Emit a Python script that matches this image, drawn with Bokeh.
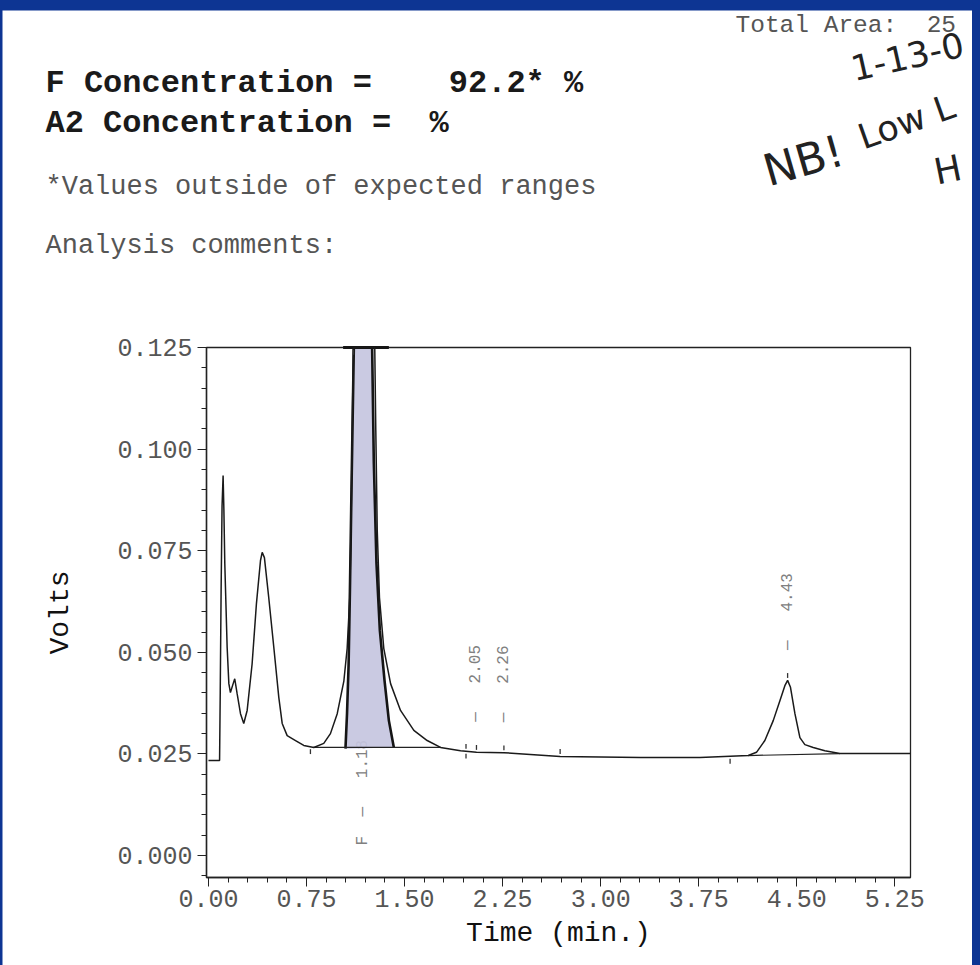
import numpy as np
from bokeh.plotting import figure
from bokeh.layouts import column
from bokeh.models import Range1d, FixedTicker, PrintfTickFormatter
from bokeh.core.properties import value
from bokeh.embed import file_html
from bokeh.resources import INLINE

MONO = "Liberation Mono"
BLUE = "#0d3593"
NB = "\u00a0"  # non-breaking space keeps column alignment in svg text

# ---- detector trace (time in min, signal in volts; 0.125 V is full scale) ----
time_min = [0.000, 0.085, 0.090, 0.097, 0.104, 0.112, 0.118, 0.125, 0.143, 0.156,
            0.168, 0.189, 0.201, 0.219, 0.245, 0.270, 0.296, 0.334, 0.367, 0.398,
            0.411, 0.428, 0.461, 0.500, 0.538, 0.564, 0.602, 0.666, 0.729, 0.806,
            0.882, 0.933, 0.985, 1.036, 1.061, 1.081, 1.090, 1.100, 1.108,
            1.272, 1.280, 1.291, 1.308, 1.341, 1.393, 1.469, 1.571, 1.673, 1.775,
            1.928, 2.050, 2.260, 2.690, 3.305, 3.760, 4.129, 4.192, 4.256, 4.320,
            4.371, 4.409, 4.430, 4.452, 4.486, 4.524, 4.562, 4.626, 4.715, 4.830,
            5.370]
volts = [0.0234, 0.0234, 0.0400, 0.0660, 0.0860, 0.0935, 0.0850, 0.0718, 0.0512, 0.0423,
         0.0401, 0.0423, 0.0435, 0.0399, 0.0349, 0.0325, 0.0357, 0.0472, 0.0620, 0.0726,
         0.0746, 0.0733, 0.0635, 0.0512, 0.0389, 0.0325, 0.0295, 0.0283, 0.0271, 0.0266,
         0.0276, 0.0300, 0.0349, 0.0430, 0.0510, 0.0635, 0.0800, 0.1046, 0.1250,
         0.1250, 0.1046, 0.0800, 0.0635, 0.0510, 0.0423, 0.0357, 0.0308, 0.0283, 0.0266,
         0.0258, 0.0254, 0.0253, 0.0244, 0.0241, 0.0241, 0.0246, 0.0254, 0.0283, 0.0332,
         0.0381, 0.0418, 0.0431, 0.0414, 0.0349, 0.0290, 0.0273, 0.0266, 0.0258, 0.0251,
         0.0251]

# integrated F window (edges of the shaded area)
f_left_t = [1.048, 1.060, 1.072, 1.082, 1.094, 1.112]
f_left_v = [0.0263, 0.0350, 0.0470, 0.0650, 0.0900, 0.1250]
f_right_t = [1.252, 1.265, 1.285, 1.311, 1.347, 1.380, 1.418]
f_right_v = [0.1250, 0.0965, 0.0720, 0.0554, 0.0430, 0.0332, 0.0266]
f_clip_t = [1.03, 1.38]

# drop baselines under integrated peaks
base_t0 = [0.80, 4.129]
base_t1 = [1.78, 4.830]
base_v0 = [0.0266, 0.0246]
base_v1 = [0.0266, 0.0251]

# peak annotations
peak_names = ["F", "", "", ""]
peak_times = [1.18, 2.05, 2.26, 4.43]

# integration event marks (time, side of trace)
event_t = [0.78, 1.11, 1.97, 1.97, 2.05, 2.26, 2.69, 3.99, 4.43]
event_side = [-1, -1, 1, -1, 1, 1, 1, -1, 1]

x_major = [0.00, 0.75, 1.50, 2.25, 3.00, 3.75, 4.50, 5.25]
y_major = [0.000, 0.025, 0.050, 0.075, 0.100, 0.125]

# report header lines
header_lines = ["F Concentration =" + NB * 4 + "92.2* %",
                "A2 Concentration =" + NB * 2 + "%"]
note_lines = ["*Values outside of expected ranges", "Analysis comments:"]
total_area = "Total Area:" + NB * 2 + "25"
handwriting = ["1-13-0", "NB!", "Low L", "H"]

# ---------------- page geometry ----------------
W, H = 970, 955             # printed page inside the blue frame
PL, PR, PT, PB = 204, 908, 337, 867   # chart box on the page (px)
T0, T1 = -0.015, 5.37       # time limits of the chart box
V0, V1 = -0.0054, 0.125     # signal limits of the chart box

kx = (PR - PL) / (T1 - T0)
ky = (PB - PT) / (V1 - V0)


def page_x(px):
    return T0 + (px - PL) / kx


def page_y(py):
    return V1 - (py - PT) / ky


p = figure(width=W, height=H,
           x_range=Range1d(page_x(0), page_x(W)),
           y_range=Range1d(page_y(H), page_y(0)),
           output_backend="svg", toolbar_location=None,
           min_border=0, min_border_left=0, min_border_right=0,
           min_border_top=0, min_border_bottom=0)
p.margin = (10, 8, 0, 2)
p.grid.visible = False
p.background_fill_color = "white"
p.border_fill_color = "white"
p.outline_line_color = None

# ---- header text (page pixels -> plot coordinates) ----
p.text(x=[page_x(733)], y=[page_y(15)], text=[total_area], text_font=value(MONO),
       text_font_size="24.5px", text_color="#555", text_baseline="middle")
p.text(x=[page_x(43)] * 2, y=[page_y(73), page_y(113)], text=header_lines,
       text_font=value(MONO), text_font_size="32px", text_font_style="bold",
       text_color="#1a1a1a", text_baseline="middle")
p.text(x=[page_x(43)] * 2, y=[page_y(176), page_y(235)], text=note_lines,
       text_font=value(MONO), text_font_size="27px", text_color="#555",
       text_baseline="middle")
p.text(x=[page_x(v) for v in (849, 762, 857, 932)],
       y=[page_y(v) for v in (58, 161, 128, 162)],
       text=handwriting, angle=[0.22, 0.28, 0.34, 0.20],
       text_font=value("DejaVu Sans"), text_font_size=["35px", "44px", "35px", "36px"],
       text_color="#222", text_baseline="alphabetic")

# ---- chart axes, pinned to the chart box ----
xt = FixedTicker(ticks=x_major, minor_ticks=list(np.round(np.arange(0, 36) * 0.15, 2)))
yt = FixedTicker(ticks=y_major, minor_ticks=list(np.round(np.arange(-1, 26) * 0.005, 3)))
p.xaxis.ticker = xt
p.yaxis.ticker = yt
p.xaxis.fixed_location = V0
p.yaxis.fixed_location = T0
p.xaxis.bounds = (T0, T1)
p.yaxis.bounds = (V0, V1)
p.xaxis.formatter = PrintfTickFormatter(format="%.2f")
p.yaxis.formatter = PrintfTickFormatter(format="%.3f")
p.xaxis.axis_label = "Time (min.)"
p.yaxis.axis_label = "Volts"
for ax in (p.xaxis, p.yaxis):
    ax.axis_line_color = "#222"
    ax.axis_line_width = 1.4
    ax.major_tick_line_color = "#222"
    ax.minor_tick_line_color = "#222"
    ax.major_tick_out = 9
    ax.major_tick_in = 0
    ax.minor_tick_out = 5
    ax.minor_tick_in = 0
    ax.major_label_text_font = MONO
    ax.major_label_text_font_size = "25px"
    ax.major_label_text_color = "#555"
    ax.axis_label_text_font = MONO
    ax.axis_label_text_font_size = "28px"
    ax.axis_label_text_font_style = "normal"
    ax.axis_label_text_color = "#111"
p.xaxis.major_label_standoff = 3
p.xaxis.axis_label_standoff = 8
p.yaxis.major_label_standoff = 5
p.yaxis.axis_label_standoff = 38
p.yaxis.major_label_orientation = "horizontal"

# chart box top and right edges
p.quad(left=[T0], right=[T1], bottom=[V0], top=[V1], fill_color=None,
       line_color="#222", line_width=1.3)

t_arr = np.array(time_min)
v_arr = np.array(volts)

# peak labels (F label sits low because its peak is off scale)
lab_x, lab_y, lab_txt = [], [], []
for name, rt in zip(peak_names, peak_times):
    lab_x.append(rt)
    if name:
        lab_y.append(0.0025)
        lab_txt.append(name + NB * 2 + "\u2014" + NB * 3 + f"{rt:.2f}")
    else:
        lab_y.append(float(np.interp(rt, t_arr, v_arr)) + 0.0075)
        lab_txt.append("\u2014" + NB * 3 + f"{rt:.2f}")
p.text(x=lab_x, y=lab_y, text=lab_txt, angle=np.pi / 2, text_font=value(MONO),
       text_font_size="16px", text_color="#808080", text_align="left",
       text_baseline="middle")

# shaded F window
p.patch(f_left_t + f_right_t, f_left_v + f_right_v, fill_color="#c6c6df",
        fill_alpha=0.92, line_color=None)
p.line(f_left_t, f_left_v, line_color="#151515", line_width=2.6)
p.line(f_right_t, f_right_v, line_color="#151515", line_width=2.6)
p.line(f_clip_t, [V1, V1], line_color="#151515", line_width=3)

# drop baselines
p.segment(x0=base_t0, y0=base_v0, x1=base_t1, y1=base_v1, line_color="#222", line_width=1.2)

# trace
p.line(time_min, volts, line_color="#1a1a1a", line_width=1.5)

# event marks
ev_y = np.interp(event_t, t_arr, v_arr)
side = np.array(event_side)
p.segment(x0=event_t, y0=list(ev_y + side * 0.0006), x1=event_t,
          y1=list(ev_y + side * 0.0018), line_color="#333", line_width=1.3)

page = column(p, styles={"background-color": BLUE})

with open("out.html", "w") as f:
    f.write(file_html(page, INLINE))
